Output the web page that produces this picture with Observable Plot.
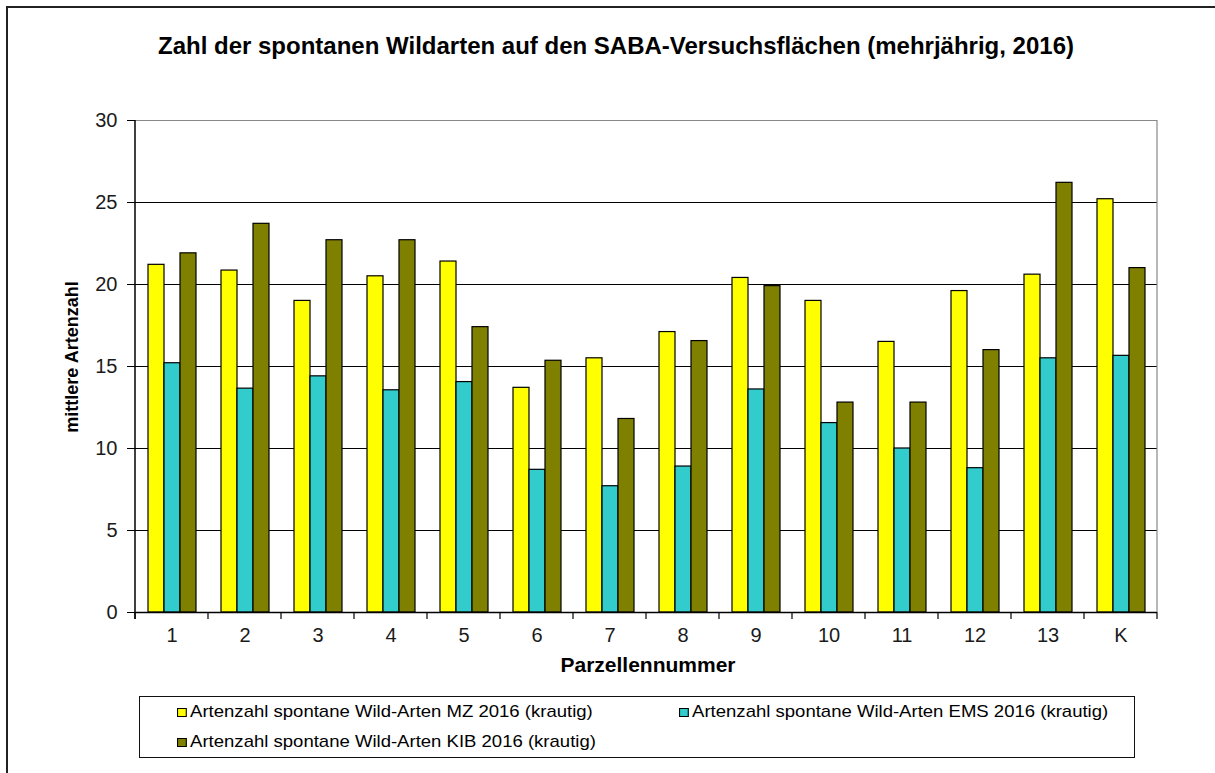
<!DOCTYPE html>
<html><head><meta charset="utf-8">
<script src="https://cdn.jsdelivr.net/npm/d3@7"></script>
<script src="https://cdn.jsdelivr.net/npm/@observablehq/plot@0.6"></script>
<style>
body{margin:0;background:#fff;font-family:"Liberation Sans",Arial,sans-serif;}
#page{position:relative;width:1215px;height:773px;overflow:hidden;}
#frame{position:absolute;left:6px;top:6px;width:1400px;height:1000px;border:2px solid #222;box-sizing:border-box;}
#title{position:absolute;left:0;width:1232px;top:32px;line-height:28px;text-align:center;font-weight:bold;font-size:24px;color:#000;white-space:nowrap;}
#chart{position:absolute;left:0;top:0;}
#ylabel{position:absolute;left:72px;top:357px;line-height:20px;transform:translate(-50%,-50%) rotate(-90deg);font-weight:bold;font-size:18px;white-space:nowrap;}
#xlabel{position:absolute;left:648px;top:653px;line-height:24px;transform:translateX(-50%);font-weight:bold;font-size:21px;white-space:nowrap;}
#legend{position:absolute;left:139px;top:696px;width:996px;height:62px;border:1.5px solid #111;box-sizing:border-box;}
.item{position:absolute;font-size:17px;line-height:20px;white-space:nowrap;display:flex;align-items:center;transform:scaleX(1.09);transform-origin:left center;}
.sw{width:7px;height:7px;border:1px solid #000;margin-right:3px;display:inline-block;}
</style>
</head><body>
<div id="page">
  <div id="frame"></div>
  <div id="title"></div>
  <div id="chart"></div>
  <div id="ylabel"></div>
  <div id="xlabel"></div>
  <div id="legend"></div>
</div>
<script>
const titleText = "Zahl der spontanen Wildarten auf den SABA-Versuchsflächen (mehrjährig, 2016)";
const yLabelText = "mittlere Artenzahl";
const xLabelText = "Parzellennummer";
const categories = ["1","2","3","4","5","6","7","8","9","10","11","12","13","K"];
const seriesNames = [
  "Artenzahl spontane Wild-Arten MZ 2016 (krautig)",
  "Artenzahl spontane Wild-Arten EMS 2016 (krautig)",
  "Artenzahl spontane Wild-Arten KIB 2016 (krautig)"
];
const mz  = [21.2, 20.85, 19.0, 20.5, 21.4, 13.7, 15.5, 17.1, 20.4, 19.0, 16.5, 19.6, 20.6, 25.2];
const ems = [15.2, 13.65, 14.4, 13.55, 14.05, 8.7, 7.7, 8.9, 13.6, 11.55, 10.0, 8.8, 15.5, 15.65];
const kib = [21.9, 23.7, 22.7, 22.7, 17.4, 15.35, 11.8, 16.55, 19.9, 12.8, 12.8, 16.0, 26.2, 21.0];
const colors = ["#FFFF00", "#33CCCC", "#808000"];
const yTicks = [0, 5, 10, 15, 20, 25, 30];
const gridValues = [5, 10, 15, 20, 25];

document.getElementById("title").textContent = titleText;
document.getElementById("ylabel").textContent = yLabelText;
document.getElementById("xlabel").textContent = xLabelText;

const seriesValues = [mz, ems, kib];
const data = [];
categories.forEach((c, i) => seriesNames.forEach((s, j) => data.push({cat: c, series: s, value: seriesValues[j][i]})));

const chart = Plot.plot({
  width: 1215, height: 690,
  marginLeft: 130, marginRight: 53, marginTop: 120, marginBottom: 78,
  style: {fontFamily: "Liberation Sans, Arial, sans-serif", fontSize: "20px", color: "#000", background: "transparent"},
  fx: {domain: categories, padding: 0, label: null},
  x: {domain: seriesNames, paddingInner: 0, paddingOuter: 0.7, axis: null},
  y: {domain: [0, 30], label: null},
  color: {domain: seriesNames, range: colors},
  marks: [
    Plot.ruleY(gridValues, {stroke: "#000", strokeWidth: 1.2}),
    Plot.ruleY([30], {stroke: "#888", strokeWidth: 1.2}),
    Plot.barY(data, {fx: "cat", x: "series", y: "value", fill: "series", stroke: "#000", strokeWidth: 1.2}),
    Plot.ruleY([0], {stroke: "#000", strokeWidth: 1.5}),
    Plot.axisY({ticks: yTicks, tickSize: 8, tickPadding: 10, fontSize: 20, label: null, stroke: "#000", fill: "#1a1a1a"}),
    Plot.axisFx({anchor: "bottom", tickSize: 0, tickPadding: 15, fontSize: 20, label: null, fill: "#1a1a1a"})
  ]
});
document.getElementById("chart").appendChild(chart);

// axis lines & separator ticks from library scales
const fx = chart.scale("fx"), y = chart.scale("y");
const svg = d3.select(chart);
const x0 = fx.apply(categories[0]);
const x1 = fx.apply(categories[categories.length - 1]) + fx.bandwidth;
const yTop = y.apply(30), yBot = y.apply(0);
svg.append("line").attr("x1", x1).attr("x2", x1).attr("y1", yTop).attr("y2", yBot).attr("stroke", "#888").attr("stroke-width", 1.2);
svg.append("line").attr("x1", x0).attr("x2", x0).attr("y1", yTop).attr("y2", yBot + 7).attr("stroke", "#000").attr("stroke-width", 1.5);
const edges = categories.map(c => fx.apply(c)).concat([x1]);
svg.append("g").selectAll("line").data(edges).join("line")
  .attr("x1", d => d).attr("x2", d => d).attr("y1", yBot).attr("y2", yBot + 7)
  .attr("stroke", "#000").attr("stroke-width", 1.2);

// legend
const legend = document.getElementById("legend");
const pos = [[37, 5], [539, 5], [37, 35]];
seriesNames.forEach((s, i) => {
  const d = document.createElement("div");
  d.className = "item";
  d.style.left = pos[i][0] + "px";
  d.style.top = pos[i][1] + "px";
  const sw = document.createElement("span");
  sw.className = "sw";
  sw.style.background = colors[i];
  d.appendChild(sw);
  d.appendChild(document.createTextNode(s));
  legend.appendChild(d);
});
</script>
</body></html>
